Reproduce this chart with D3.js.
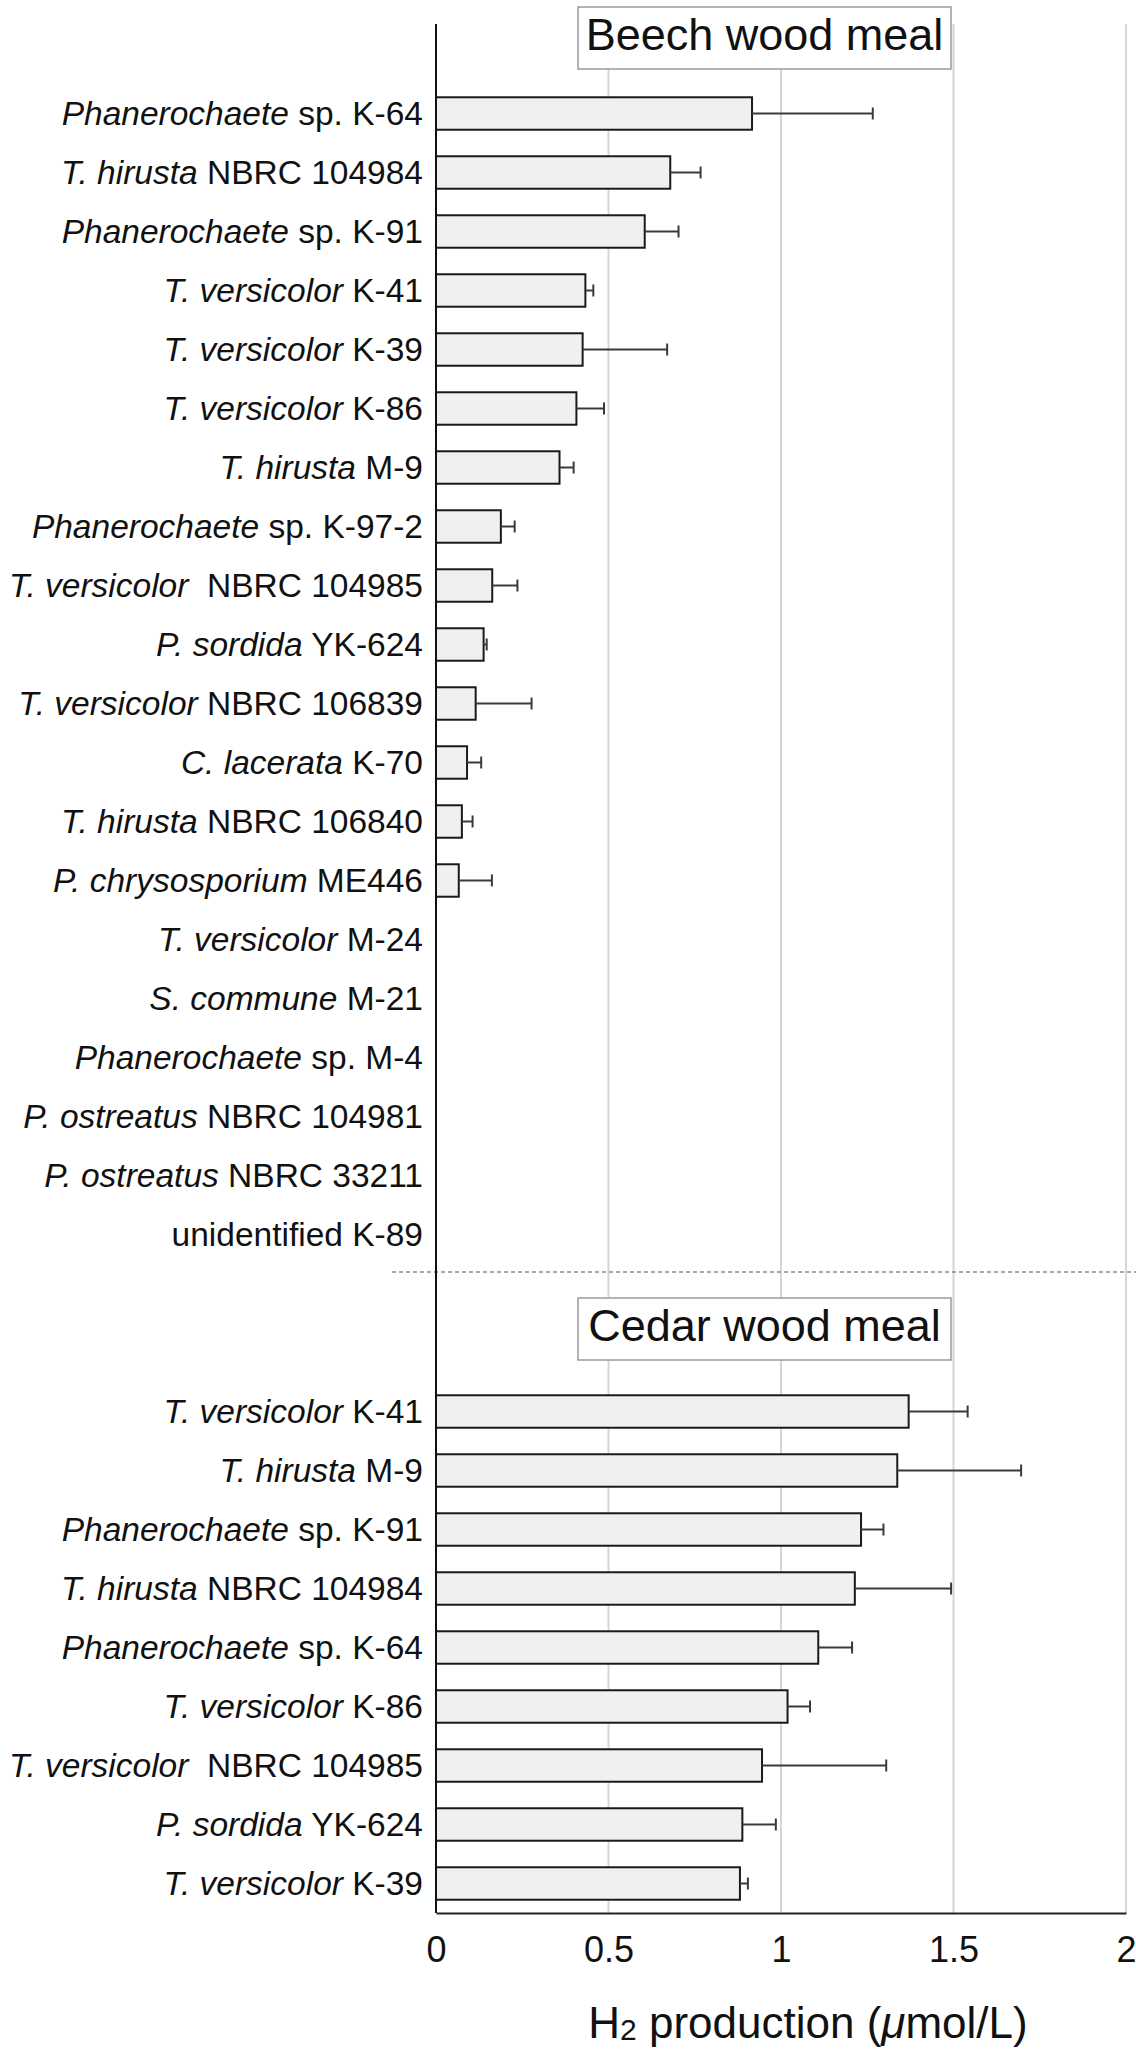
<!DOCTYPE html>
<html>
<head>
<meta charset="utf-8">
<script src="https://cdn.jsdelivr.net/npm/d3@7"></script>
<style>
  body { margin: 0; background: #fff; }
  text { font-family: "Liberation Sans", Arial, Helvetica, sans-serif; fill: #111; }
</style>
</head>
<body>
<div id="chart"></div>
<script>
// data --------------------------------------------------------------------
const beechSpecies = ["Phanerochaete", "T. hirusta", "Phanerochaete", "T. versicolor", "T. versicolor",
    "T. versicolor", "T. hirusta", "Phanerochaete", "T. versicolor", "P. sordida",
    "T. versicolor", "C. lacerata", "T. hirusta", "P. chrysosporium", "T. versicolor",
    "S. commune", "Phanerochaete", "P. ostreatus", "P. ostreatus", ""];
const beechStrains = ["sp. K-64", "NBRC 104984", "sp. K-91", "K-41", "K-39",
    "K-86", "M-9", "sp. K-97-2", "\u00a0NBRC 104985", "YK-624",
    "NBRC 106839", "K-70", "NBRC 106840", "ME446", "M-24",
    "M-21", "sp. M-4", "NBRC 104981", "NBRC 33211", "unidentified K-89"];
const beechMeans = [0.916, 0.679, 0.605, 0.433, 0.425, 0.407, 0.358, 0.188, 0.163, 0.138,
    0.115, 0.090, 0.075, 0.066, 0, 0, 0, 0, 0, 0];
const beechSD = [0.350, 0.088, 0.098, 0.023, 0.245, 0.080, 0.041, 0.040, 0.073, 0.009,
    0.162, 0.041, 0.031, 0.096, 0, 0, 0, 0, 0, 0];

const cedarSpecies = ["T. versicolor", "T. hirusta", "Phanerochaete", "T. hirusta", "Phanerochaete",
    "T. versicolor", "T. versicolor", "P. sordida", "T. versicolor"];
const cedarStrains = ["K-41", "M-9", "sp. K-91", "NBRC 104984", "sp. K-64",
    "K-86", "\u00a0NBRC 104985", "YK-624", "K-39"];
const cedarMeans = [1.370, 1.337, 1.232, 1.214, 1.108, 1.019, 0.945, 0.888, 0.881];
const cedarSD = [0.171, 0.359, 0.065, 0.279, 0.098, 0.065, 0.360, 0.097, 0.023];

const xTicks = [0, 0.5, 1, 1.5, 2];
const panelTitles = ["Beech wood meal", "Cedar wood meal"];

// svg area ---------------------------------------------------------------
const svgWidth = 1136;
const svgHeight = 2054;

const svg = d3.select("#chart").append("svg")
    .attr("width", svgWidth)
    .attr("height", svgHeight)
    .style("background", "#fff");

// build rows: beech rows, two empty slots for the cedar header, cedar rows
const rows = [];
beechSpecies.forEach((s, i) => rows.push({key: "b" + i, species: s, strain: beechStrains[i], value: beechMeans[i], sd: beechSD[i]}));
rows.push({key: "gap0", spacer: true});
rows.push({key: "gap1", spacer: true});
cedarSpecies.forEach((s, i) => rows.push({key: "c" + i, species: s, strain: cedarStrains[i], value: cedarMeans[i], sd: cedarSD[i]}));

const plotTop = 24;
const plotBottom = 1913;

const x = d3.scaleLinear()
    .domain([0, 2])
    .range([436, 1126]);

const y = d3.scaleBand()
    .domain(rows.map(d => d.key))
    .range([84, 1913])
    .paddingInner(0.45)
    .paddingOuter(0.225);

// grid lines
svg.append("g")
    .selectAll("line")
    .data(xTicks.filter(t => t > 0))
    .enter()
    .append("line")
    .attr("x1", d => x(d))
    .attr("x2", d => x(d))
    .attr("y1", plotTop)
    .attr("y2", plotBottom)
    .attr("stroke", "#d6d6d6")
    .attr("stroke-width", 2);

// dashed separator between panels
const sepY = (y("b19") + y.bandwidth() + y("gap0")) / 2 + 8;
svg.append("line")
    .attr("x1", 392)
    .attr("x2", svgWidth)
    .attr("y1", sepY)
    .attr("y2", sepY)
    .attr("stroke", "#8a8a8a")
    .attr("stroke-width", 1.5)
    .attr("stroke-dasharray", "4,3");

// panel title boxes
const boxes = [{title: panelTitles[0], y: 7}, {title: panelTitles[1], y: 1298}];
const boxG = svg.append("g")
    .selectAll("g")
    .data(boxes)
    .enter()
    .append("g");

boxG.append("rect")
    .attr("x", 578)
    .attr("y", d => d.y)
    .attr("width", 373)
    .attr("height", 62)
    .attr("fill", "#fff")
    .attr("stroke", "#9a9a9a")
    .attr("stroke-width", 1.5);

boxG.append("text")
    .attr("x", 764.5)
    .attr("y", d => d.y + 43)
    .attr("text-anchor", "middle")
    .style("font-size", "45px")
    .text(d => d.title);

// bars
const barRows = rows.filter(d => !d.spacer && d.value > 0);

svg.append("g")
    .selectAll("rect")
    .data(barRows)
    .enter()
    .append("rect")
    .attr("x", x(0))
    .attr("y", d => y(d.key))
    .attr("width", d => x(d.value) - x(0))
    .attr("height", y.bandwidth())
    .attr("fill", "#f0f0f0")
    .attr("stroke", "#1a1a1a")
    .attr("stroke-width", 2);

// error bars (upper side only)
const errG = svg.append("g")
    .selectAll("g")
    .data(barRows)
    .enter()
    .append("g")
    .attr("stroke", "#3a3a3a")
    .attr("stroke-width", 2);

errG.append("line")
    .attr("x1", d => x(d.value))
    .attr("x2", d => x(d.value + d.sd))
    .attr("y1", d => y(d.key) + y.bandwidth() / 2)
    .attr("y2", d => y(d.key) + y.bandwidth() / 2);

errG.append("line")
    .attr("x1", d => x(d.value + d.sd))
    .attr("x2", d => x(d.value + d.sd))
    .attr("y1", d => y(d.key) + y.bandwidth() / 2 - 6)
    .attr("y2", d => y(d.key) + y.bandwidth() / 2 + 6);

// category labels
const labels = svg.append("g")
    .selectAll("text")
    .data(rows.filter(d => !d.spacer))
    .enter()
    .append("text")
    .attr("x", 423)
    .attr("y", d => y(d.key) + y.bandwidth() / 2)
    .attr("dy", "0.35em")
    .attr("text-anchor", "end")
    .style("font-size", "33.5px")
    .style("white-space", "pre");

labels.append("tspan")
    .style("font-style", "italic")
    .text(d => d.species);

labels.append("tspan")
    .text(d => (d.species ? " " : "") + d.strain);

// axes
svg.append("line")
    .attr("x1", x(0))
    .attr("x2", x(0))
    .attr("y1", plotTop)
    .attr("y2", plotBottom)
    .attr("stroke", "#111")
    .attr("stroke-width", 2);

const xAxis = d3.axisBottom(x)
    .tickValues(xTicks)
    .tickFormat(d3.format("~g"))
    .tickSize(0)
    .tickPadding(23);

const xAxisG = svg.append("g")
    .attr("transform", `translate(0, ${plotBottom})`)
    .call(xAxis);

xAxisG.select(".domain")
    .attr("stroke", "#222")
    .attr("stroke-width", 2);

xAxisG.selectAll("text")
    .style("font-size", "36px")
    .style("font-family", "'Liberation Sans', Arial, sans-serif")
    .attr("fill", "#111");

// x axis title
const xTitle = svg.append("text")
    .attr("x", 808)
    .attr("y", 2038)
    .attr("text-anchor", "middle")
    .style("font-size", "44px");

xTitle.append("tspan").text("H");
xTitle.append("tspan").style("font-size", "30px").attr("dy", 2).text("2");
xTitle.append("tspan").attr("dy", -2).text(" production (");
xTitle.append("tspan").style("font-style", "italic").text("\u03bc");
xTitle.append("tspan").text("mol/L)");
</script>
</body>
</html>
